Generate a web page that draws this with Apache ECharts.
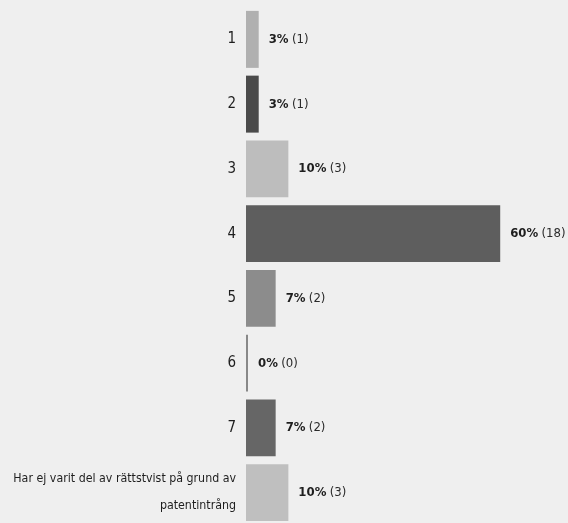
<!DOCTYPE html>
<html>
<head>
<meta charset="utf-8">
<script src="https://cdn.jsdelivr.net/npm/echarts@6/dist/echarts.min.js"></script>
<style>
  html, body { margin: 0; padding: 0; background: #efefef; }
  #chart { width: 568px; height: 523px; }
</style>
</head>
<body>
<div id="chart"></div>
<script>
  const categories = ['1', '2', '3', '4', '5', '6', '7', 'Har ej varit del av rättstvist på grund av\npatentintrång'];
  const percents = [3, 3, 10, 60, 7, 0, 7, 10];
  const counts = [1, 1, 3, 18, 2, 0, 2, 3];
  const colors = ['#b0b0b0', '#4a4a4a', '#bdbdbd', '#5e5e5e', '#8c8c8c', '#888888', '#666666', '#bfbfbf'];

  const font = '"DejaVu Sans Condensed", "Liberation Sans Narrow", sans-serif';

  const chart = echarts.init(document.getElementById('chart'));

  const option = {
    backgroundColor: '#efefef',
    animation: false,
    grid: {
      left: 246,
      right: 0,
      top: 7,
      bottom: -2,
      containLabel: false,
      outerBoundsMode: 'none'
    },
    xAxis: {
      type: 'value',
      min: 0,
      max: 76,
      show: false
    },
    yAxis: {
      type: 'category',
      inverse: true,
      data: categories,
      axisLine: { show: false },
      axisTick: { show: false },
      axisLabel: {
        margin: 10,
        align: 'right',
        formatter: (v) => (v.length > 2 ? '{s|' + v + '}' : '{d|' + v + '}'),
        rich: {
          d: { fontFamily: font, fontSize: 15, color: '#1e1e1e' },
          s: { fontFamily: font, fontSize: 12.3, color: '#1e1e1e', lineHeight: 27, align: 'right' }
        }
      }
    },
    series: [
      {
        type: 'bar',
        barCategoryGap: '12%',
        barMinHeight: 2,
        data: percents.map((v, i) => ({
          value: v,
          itemStyle: { color: colors[i] }
        })),
        label: {
          show: true,
          position: 'right',
          distance: 10,
          formatter: (p) => '{b|' + percents[p.dataIndex] + '%} {n|(' + counts[p.dataIndex] + ')}',
          rich: {
            b: { fontFamily: font, fontSize: 13, fontWeight: 'bold', color: '#1e1e1e' },
            n: { fontFamily: font, fontSize: 13, color: '#2a2a2a' }
          }
        }
      }
    ]
  };

  chart.setOption(option);
</script>
</body>
</html>
